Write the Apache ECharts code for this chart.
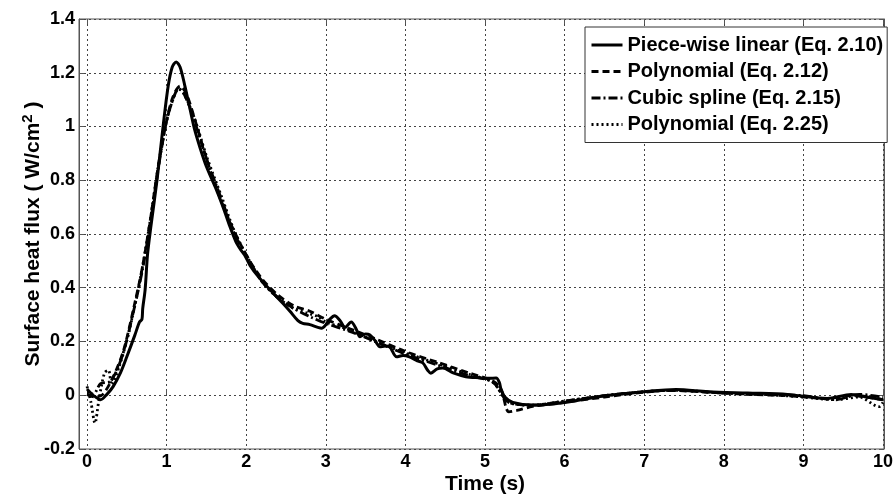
<!DOCTYPE html>
<html>
<head>
<meta charset="utf-8">
<script src="https://cdn.jsdelivr.net/npm/echarts@6/dist/echarts.min.js"></script>
<style>
  html, body { margin: 0; padding: 0; background: #fff; }
  #chart { width: 896px; height: 500px; }
</style>
</head>
<body>
<div id="chart"></div>
<script>
// Surface heat flux (W/cm^2) versus time (s) for four reconstruction methods
const seriesNames = [
  'Piece-wise linear (Eq. 2.10)',
  'Polynomial (Eq. 2.12)',
  'Cubic spline (Eq. 2.15)',
  'Polynomial (Eq. 2.25)'
];

const pieceWiseLinear = [
  [0,0],[0.08,-0.005],[0.17,-0.02],[0.25,0.0],[0.33,0.03],[0.42,0.08],[0.5,0.14],
  [0.6,0.22],[0.66,0.27],[0.69,0.28],[0.7,0.32],[0.73,0.39],[0.76,0.52],[0.8,0.62],
  [0.88,0.8],[0.96,1.01],[1.02,1.15],[1.07,1.22],[1.12,1.24],[1.17,1.22],[1.23,1.15],
  [1.29,1.07],[1.35,0.99],[1.42,0.92],[1.5,0.85],[1.63,0.76],[1.72,0.69],[1.79,0.63],
  [1.87,0.57],[1.93,0.54],[1.98,0.52],[2.05,0.48],[2.15,0.44],[2.3,0.39],[2.46,0.34],
  [2.55,0.31],[2.65,0.275],[2.71,0.265],[2.8,0.26],[2.9,0.25],[2.95,0.247],[3.05,0.28],
  [3.11,0.293],[3.18,0.275],[3.24,0.25],[3.32,0.27],[3.38,0.245],[3.43,0.215],
  [3.5,0.225],[3.55,0.222],[3.62,0.2],[3.68,0.178],[3.75,0.18],[3.8,0.178],[3.89,0.14],
  [3.97,0.145],[4.05,0.14],[4.15,0.125],[4.22,0.117],[4.28,0.09],[4.32,0.079],
  [4.4,0.095],[4.47,0.098],[4.6,0.08],[4.76,0.066],[4.93,0.062],[5.05,0.06],
  [5.14,0.061],[5.18,0.045],[5.2,0.02],[5.25,-0.01],[5.35,-0.03],[5.6,-0.04],
  [6.0,-0.03],[6.5,-0.005],[7.0,0.01],[7.4,0.018],[7.8,0.01],[8.3,0.005],[8.8,0.0],
  [9.3,-0.015],[9.6,0.0],[9.8,-0.01],[10,-0.02]
];

const polynomial212 = [
  [0,0.0],[0.1,-0.01],[0.2,0.0],[0.33,0.066],[0.46,0.165],[0.6,0.34],[0.7,0.48],
  [0.8,0.66],[0.9,0.86],[1.0,1.02],[1.08,1.11],[1.17,1.15],[1.25,1.12],[1.35,1.03],
  [1.5,0.88],[1.65,0.75],[1.8,0.64],[2.0,0.52],[2.2,0.43],[2.4,0.37],[2.6,0.33],
  [2.8,0.31],[3.0,0.28],[3.3,0.245],[3.6,0.21],[4.0,0.16],[4.4,0.12],[4.8,0.08],
  [5.1,0.05],[5.2,0.02],[5.3,-0.065],[5.4,-0.06],[5.6,-0.045],[6.0,-0.03],[6.5,-0.01],
  [7.0,0.008],[7.3,0.015],[7.8,0.008],[8.3,0.0],[8.8,-0.005],[9.3,-0.015],
  [9.6,-0.005],[10,-0.02]
];

const cubicSpline215 = [
  [0,0.02],[0.08,0.0],[0.17,0.04],[0.3,0.05],[0.45,0.15],[0.6,0.33],[0.7,0.47],
  [0.8,0.65],[0.9,0.85],[1.0,1.02],[1.08,1.1],[1.15,1.14],[1.22,1.12],[1.35,1.02],
  [1.5,0.88],[1.7,0.72],[1.85,0.6],[2.0,0.52],[2.2,0.42],[2.4,0.36],[2.6,0.32],
  [2.8,0.29],[3.0,0.265],[3.3,0.235],[3.6,0.2],[4.0,0.15],[4.4,0.11],[4.8,0.07],
  [5.1,0.045],[5.3,-0.03],[5.6,-0.04],[6.0,-0.025],[6.5,-0.005],[7.0,0.01],
  [7.4,0.015],[8.0,0.005],[8.5,0.0],[9.0,-0.005],[9.4,-0.02],[9.7,0.0],[10,-0.01]
];

const polynomial225 = [
  [0,0.03],[0.05,-0.03],[0.1,-0.107],[0.15,-0.02],[0.22,0.08],[0.27,0.09],[0.31,0.035],
  [0.4,0.1],[0.5,0.2],[0.6,0.33],[0.7,0.48],[0.8,0.66],[0.9,0.86],[1.0,1.02],
  [1.08,1.1],[1.15,1.14],[1.22,1.12],[1.35,1.03],[1.5,0.89],[1.7,0.73],[1.85,0.61],
  [2.0,0.52],[2.2,0.42],[2.4,0.36],[2.6,0.32],[2.9,0.29],[3.0,0.27],[3.3,0.24],
  [3.6,0.2],[4.0,0.155],[4.4,0.115],[4.8,0.075],[5.1,0.045],[5.3,-0.03],[5.6,-0.04],
  [6.0,-0.025],[6.5,-0.005],[7.0,0.01],[7.4,0.015],[8.0,0.005],[8.5,0.0],[9.0,-0.01],
  [9.4,-0.02],[9.7,-0.01],[9.95,-0.046],[10,-0.03]
];

const xTicks = { min: 0, max: 10, interval: 1 };
const yTicks = { min: -0.2, max: 1.4, interval: 0.2 };

const FONT = '"Liberation Sans", Arial, sans-serif';
const INK = '#000';
const FRAME = '#555';

const chart = echarts.init(document.getElementById('chart'), null, { renderer: 'canvas' });

function lineSeries(name, data, type, width) {
  return {
    name: name,
    type: 'line',
    xAxisIndex: 1,
    yAxisIndex: 2,
    data: data,
    showSymbol: false,
    symbol: 'none',
    smooth: 0.3,
    lineStyle: { color: INK, width: width, type: type },
    itemStyle: { color: INK },
    emphasis: { disabled: true },
    z: 3
  };
}

const dotted = { show: true, lineStyle: { color: '#444', type: [2, 3], width: 1 } };
const tickIn = { show: true, inside: true, length: 5, lineStyle: { color: FRAME } };
const labelFont = { fontFamily: FONT, fontWeight: 'bold', fontSize: 18, color: INK };
const nameFont = { fontFamily: FONT, fontWeight: 'bold', fontSize: 21, color: INK };

chart.setOption({
  animation: false,
  backgroundColor: '#fff',
  grid: [
    // outer box: frame, y ticks, horizontal grid lines
    { left: 79, right: 12, top: 19, bottom: 51, show: true, borderColor: FRAME, borderWidth: 1, backgroundColor: 'transparent' },
    // plotting area: time starts slightly inside the box
    { left: 87, right: 12, top: 19, bottom: 51 }
  ],
  legend: {
    orient: 'vertical',
    left: 585,
    top: 27,
    padding: [8, 4, 8, 5],
    itemGap: 6.5,
    itemWidth: 31,
    itemHeight: 20,
    backgroundColor: '#fff',
    borderColor: '#333',
    borderWidth: 1,
    borderRadius: 0,
    itemStyle: { opacity: 0, borderWidth: 0 },
    lineStyle: { width: 3 },
    textStyle: { fontFamily: FONT, fontWeight: 'bold', fontSize: 20, color: INK },
    data: seriesNames
  },
  xAxis: [{
    gridIndex: 0, type: 'value', min: 0, max: 1, show: false
  }, {
    gridIndex: 1,
    type: 'value',
    min: xTicks.min, max: xTicks.max, interval: xTicks.interval,
    name: 'Time (s)',
    nameLocation: 'middle',
    nameGap: 26,
    nameMoveOverlap: false,
    nameTextStyle: nameFont,
    axisLine: { show: false },
    axisTick: tickIn,
    axisLabel: Object.assign({ margin: 5 }, labelFont),
    splitLine: dotted
  }, {
    gridIndex: 1, type: 'value', position: 'top',
    min: xTicks.min, max: xTicks.max, interval: xTicks.interval,
    axisLine: { show: false },
    axisTick: tickIn,
    axisLabel: { show: false },
    splitLine: { show: false }
  }],
  yAxis: [{
    gridIndex: 0,
    type: 'value',
    min: yTicks.min, max: yTicks.max, interval: yTicks.interval,
    name: 'Surface heat flux ( W/cm{sup|2} )',
    nameLocation: 'middle',
    nameGap: 32,
    nameMoveOverlap: false,
    nameTextStyle: Object.assign({
      rich: { sup: { fontFamily: FONT, fontWeight: 'bold', fontSize: 15, color: INK, verticalAlign: 'top', padding: [0, 0, 12, 0] } }
    }, nameFont),
    axisLine: { show: true, lineStyle: { color: FRAME } },
    axisTick: tickIn,
    axisLabel: Object.assign({ margin: 4 }, labelFont),
    splitLine: dotted
  }, {
    gridIndex: 0, type: 'value', position: 'right',
    min: yTicks.min, max: yTicks.max, interval: yTicks.interval,
    axisLine: { show: true, lineStyle: { color: FRAME } },
    axisTick: tickIn,
    axisLabel: { show: false },
    splitLine: { show: false }
  }, {
    gridIndex: 1, type: 'value',
    min: yTicks.min, max: yTicks.max, interval: yTicks.interval,
    show: false
  }],
  series: [
    lineSeries(seriesNames[0], pieceWiseLinear, 'solid', 3),
    lineSeries(seriesNames[1], polynomial212, [7, 4], 2.8),
    lineSeries(seriesNames[2], cubicSpline215, [9, 3, 2, 3], 2.8),
    lineSeries(seriesNames[3], polynomial225, [2, 3], 2.8)
  ]
});
</script>
</body>
</html>
